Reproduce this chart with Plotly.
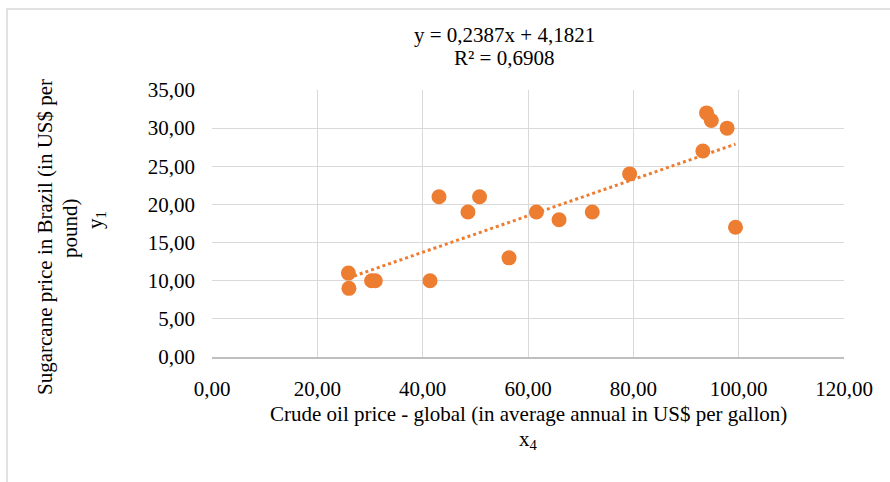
import plotly.graph_objects as go

# Crude oil price (x4) vs. sugarcane price in Brazil (y1)
oil_price = [25.9, 26.0, 30.3, 31.0, 41.4, 43.1, 48.6, 50.8, 56.4, 61.6,
             65.9, 72.2, 79.3, 93.2, 93.9, 94.8, 97.8, 99.4]
sugar_price = [11, 9, 10, 10, 10, 21, 19, 21, 13, 19,
               18, 19, 24, 27, 32, 31, 30, 17]

# Linear trend as reported on the chart
slope = 0.2387
intercept = 4.1821
r_squared = 0.6908

x_ticks = [0, 20, 40, 60, 80, 100, 120]
y_ticks = [0, 5, 10, 15, 20, 25, 30, 35]

ORANGE = "#ED7D31"
GRID = "#d9d9d9"
FONT = "Liberation Serif"
FS = 21

def comma(v, d):
    return f"{v:.{d}f}".replace(".", ",")

trend_x = [min(oil_price), max(oil_price)]
trend_y = [slope * v + intercept for v in trend_x]

fig = go.Figure()
fig.add_trace(go.Scatter(
    x=trend_x, y=trend_y, mode="lines",
    line=dict(color=ORANGE, width=3, dash="dot"),
    hoverinfo="skip", showlegend=False,
))
fig.add_trace(go.Scatter(
    x=oil_price, y=sugar_price, mode="markers",
    marker=dict(color=ORANGE, size=15, line=dict(width=0)),
    showlegend=False,
))

fig.update_xaxes(
    range=[0, 120], tickvals=x_ticks, ticktext=[comma(v, 2) for v in x_ticks],
    showgrid=True, gridcolor=GRID, gridwidth=1.3,
    showline=True, linecolor="#bfbfbf", linewidth=1.5,
    zeroline=False, ticks="", ticklabelstandoff=12,
    tickfont=dict(family=FONT, size=FS, color="#000"),
)
fig.update_yaxes(
    range=[0, 35], tickvals=y_ticks, ticktext=[comma(v, 2) for v in y_ticks],
    showgrid=True, gridcolor=GRID, gridwidth=1.3,
    showline=False, zeroline=False, ticks="", ticklabelstandoff=16,
    tickfont=dict(family=FONT, size=FS, color="#000"),
)

txt = dict(family=FONT, size=FS, color="#000")
annotations = [
    # trend equation
    dict(text=f"y = {comma(slope, 4)}x + {comma(intercept, 4)}", x=504, y=35),
    dict(text=f"R² = {comma(r_squared, 4)}", x=504, y=58),
    # x-axis title
    dict(text="Crude oil price - global (in average annual in US$ per gallon)",
         x=528, y=414),
    dict(text="x<sub>4</sub>", x=528, y=440),
    # y-axis title
    dict(text="Sugarcane price in Brazil (in US$ per", x=45, y=237, textangle=-90),
    dict(text="pound)", x=70, y=228, textangle=-90),
    dict(text="y<sub>1</sub>", x=96, y=220, textangle=-90),
]

# convert pixel positions to paper coordinates
L, R, T, B = 212, 46, 90, 125
W, H = 890, 482
pw, ph = W - L - R, H - T - B
def px_x(p):
    return (p - L) / pw
def px_y(p):
    return (H - B - p) / ph

final = []
for a in annotations:
    a = dict(a)
    a["x"] = px_x(a["x"])
    a["y"] = px_y(a["y"])
    a["xref"] = "paper"
    a["yref"] = "paper"
    a["xanchor"] = "center"
    a["yanchor"] = "middle"
    a["showarrow"] = False
    a["font"] = txt
    final.append(a)

fig.update_layout(
    width=W, height=H,
    margin=dict(l=L, r=R, t=T, b=B),
    paper_bgcolor="white", plot_bgcolor="white",
    annotations=final,
    shapes=[dict(type="rect", xref="paper", yref="paper",
                 x0=px_x(7), x1=px_x(905), y0=px_y(500), y1=px_y(9),
                 line=dict(color=GRID, width=1.5), fillcolor="rgba(0,0,0,0)",
                 layer="below")],
)

fig.write_html("out.html")
